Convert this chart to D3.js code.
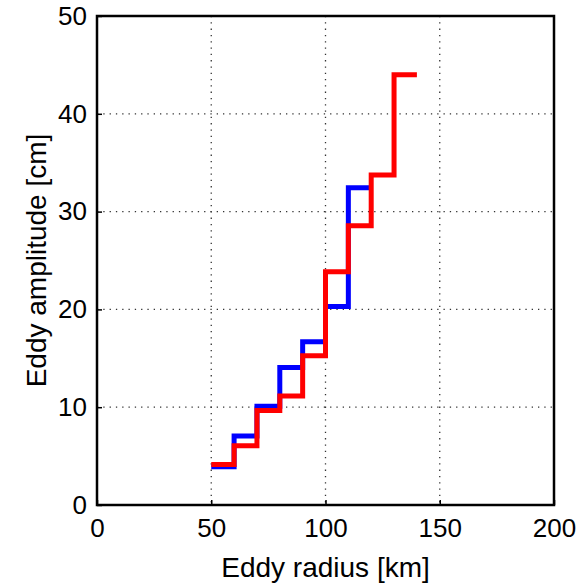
<!DOCTYPE html>
<html>
<head>
<meta charset="utf-8">
<script src="https://cdn.jsdelivr.net/npm/d3@7"></script>
<style>
	body { margin: 0; background: #fff; }
	svg { display: block; }
	text { font-family: "Liberation Sans", Arial, sans-serif; fill: #000; }
</style>
</head>
<body>
<div id="chart"></div>
<script>
// bin left edges (km), each step is 10 km wide
const blueEdges = [50, 60, 70, 80, 90, 100, 110];
const blueValues = [3.9, 7.05, 10.1, 14.05, 16.7, 20.3, 32.45];
const redEdges = [50, 60, 70, 80, 90, 100, 110, 120, 130];
const redValues = [4.15, 6.05, 9.65, 11.15, 15.25, 23.85, 28.55, 33.75, 44.0];
const xTicks = [0, 50, 100, 150, 200];
const yTicks = [0, 10, 20, 30, 40, 50];
const binWidth = 10;

const width = 583, height = 584;
const margin = {top: 16, right: 29, bottom: 79, left: 97};

const svg = d3.select('#chart').append('svg')
	.attr('width', width)
	.attr('height', height);

const x = d3.scaleLinear().domain([0, 200]).range([margin.left, width - margin.right]);
const y = d3.scaleLinear().domain([0, 50]).range([height - margin.bottom, margin.top]);

// dotted grid
const grid = svg.append('g').attr('stroke', '#333').attr('stroke-width', 1.3).attr('stroke-dasharray', '1.3,5');
grid.selectAll('.gx').data(xTicks.slice(1, -1)).join('line')
	.attr('x1', d => x(d)).attr('x2', d => x(d))
	.attr('y1', y(50)).attr('y2', y(0));
grid.selectAll('.gy').data(yTicks.slice(1, -1)).join('line')
	.attr('x1', x(0)).attr('x2', x(200))
	.attr('y1', d => y(d)).attr('y2', d => y(d));

// step lines
function stepPoints(edges, values) {
	const pts = [];
	edges.forEach((e, i) => {
		pts.push([e, values[i]]);
		pts.push([e + binWidth, values[i]]);
	});
	return pts;
}
const line = d3.line().x(d => x(d[0])).y(d => y(d[1]));

svg.append('path')
	.attr('d', line(stepPoints(blueEdges, blueValues)))
	.attr('fill', 'none').attr('stroke', '#0000ff').attr('stroke-width', 5)
	.attr('stroke-linejoin', 'miter');
svg.append('path')
	.attr('d', line(stepPoints(redEdges, redValues)))
	.attr('fill', 'none').attr('stroke', '#ff0000').attr('stroke-width', 5)
	.attr('stroke-linejoin', 'miter');

// axes (ticks inward, box)
const axisBottom = d3.axisBottom(x).tickValues(xTicks).tickSizeInner(-5).tickSizeOuter(0).tickPadding(14);
const axisLeft = d3.axisLeft(y).tickValues(yTicks).tickSizeInner(-5).tickSizeOuter(0).tickPadding(10);

const gx = svg.append('g')
	.attr('transform', `translate(0,${y(0)})`)
	.call(axisBottom);
const gy = svg.append('g')
	.attr('transform', `translate(${x(0)},0)`)
	.call(axisLeft);
[gx, gy].forEach(g => {
	g.select('.domain').remove();
	g.selectAll('line').attr('stroke', '#000').attr('stroke-width', 1.5);
	g.selectAll('text').attr('font-size', 26).attr('fill', '#000')
		.style('font-family', '"Liberation Sans", Arial, sans-serif');
});

svg.append('rect')
	.attr('x', x(0)).attr('y', y(50))
	.attr('width', x(200) - x(0)).attr('height', y(0) - y(50))
	.attr('fill', 'none').attr('stroke', '#000').attr('stroke-width', 2.5);

svg.append('text')
	.attr('x', (x(0) + x(200)) / 2).attr('y', 577)
	.attr('text-anchor', 'middle').attr('font-size', 28)
	.text('Eddy radius [km]');

svg.append('text')
	.attr('transform', `translate(46,${(y(0) + y(50)) / 2}) rotate(-90)`)
	.attr('text-anchor', 'middle').attr('font-size', 28)
	.text('Eddy amplitude [cm]');
</script>
</body>
</html>
